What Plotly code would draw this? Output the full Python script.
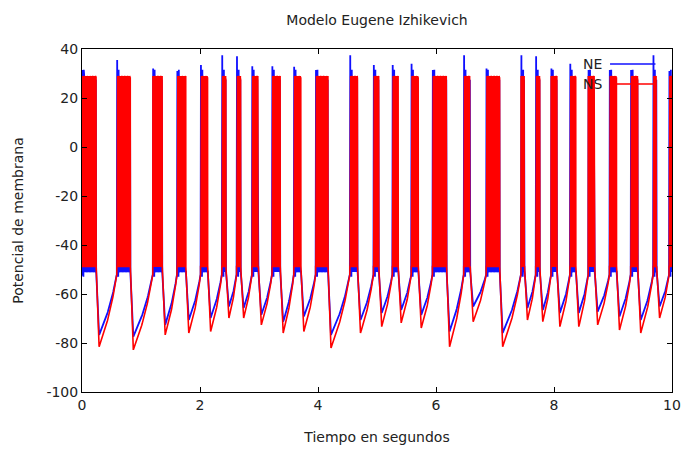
import numpy as np
import plotly.graph_objects as go

# ---- data (seconds / mV) ----
burst_start = [0.00, 0.59, 1.20, 1.61, 2.01, 2.37, 2.62, 2.88, 3.22, 3.59, 3.96, 4.54, 4.94, 5.26,
               5.58, 5.94, 6.47, 6.85, 7.44, 7.69, 7.95, 8.27, 8.58, 8.94, 9.30, 9.68, 9.95]
burst_end = [0.24, 0.82, 1.36, 1.76, 2.13, 2.44, 2.69, 2.99, 3.36, 3.71, 4.17, 4.67, 5.03, 5.36,
             5.70, 6.18, 6.58, 7.08, 7.50, 7.76, 8.05, 8.37, 8.69, 9.06, 9.42, 9.74, 10.0]
ne_min = [-76.7, -77.4, -72.6, -70.6, -69.8, -65.1, -65.7, -68.5, -71.3, -69.2, -76.7, -70.6, -67.7, -66.5,
          -68.5, -75.3, -65.1, -75.9, -65.7, -66.5, -67.7, -67.7, -67.2, -69.2, -70.6, -65.1, -65.0]
ns_min = [-81.5, -82.8, -76.7, -75.9, -75.3, -69.8, -69.8, -72.6, -75.9, -75.3, -82.0, -75.9, -73.3, -71.8,
          -73.9, -81.5, -71.3, -81.5, -70.6, -71.3, -73.3, -73.3, -72.6, -74.7, -75.9, -69.8, -70.0]
ne_peak = [31.4, 35.5, 32.0, 31.0, 33.5, 37.5, 37.0, 33.0, 33.0, 32.8, 31.4, 37.5, 33.5, 33.5,
           34.0, 31.4, 37.5, 32.0, 37.5, 37.0, 32.0, 34.0, 31.4, 31.4, 31.4, 37.5, 31.0]
ne_top_early, ne_top_late = [31.0, 30.0, 31.5], [27.5]
ne_bottom_early, ne_bottom_late = [-52.5, -51.0, -53.0], [-50.5, -51.0]
ns_top, ns_bottom = [29.0, 28.0, 28.5], [-48.5, -49.0]
threshold = -52.0
t_end = 10.0


def trace_from(starts, ends, mins, tops_early, tops_late, bots_early, bots_late, period,
               peaks=None, drop=0.05, npts=50, early=3):
    ts, vs = [], []
    n = len(starts)
    for i in range(n):
        s, e = starts[i], ends[i]
        k = max(3, int((e - s) / period))
        tt = np.linspace(s, e, 2 * k + 1)
        for j, t in enumerate(tt):
            ts.append(t)
            m = j // 2
            if j % 2 == 1:
                arr = tops_early if m < early else tops_late
                v = arr[m % len(arr)]
                if peaks is not None and j == 1:
                    v = peaks[i]
            else:
                arr = bots_early if m < early else bots_late
                v = arr[m % len(arr)]
            vs.append(v)
        nxt = starts[i + 1] if i + 1 < n else t_end
        if e >= t_end:
            continue
        t_low = min(e + drop, nxt)
        ts.append(t_low)
        vs.append(mins[i])
        rr = np.linspace(0, 1, npts)[1:]
        for r in rr:
            ts.append(t_low + (nxt - t_low) * r)
            shape = 0.7 * r + 0.3 * r ** 3
            vs.append(mins[i] + (threshold - mins[i]) * shape)
    return ts, vs


ne_t, ne_v = trace_from(burst_start, burst_end, ne_min, ne_top_early, ne_top_late,
                        ne_bottom_early, ne_bottom_late, 0.012, peaks=ne_peak)
ns_t, ns_v = trace_from(burst_start, burst_end, ns_min, ns_top, ns_top, ns_bottom, ns_bottom, 0.004)

fig = go.Figure()
fig.add_trace(go.Scatter(x=ne_t, y=ne_v, mode="lines", name="NE",
                         line=dict(color="#1010ff", width=1.8), showlegend=False))
fig.add_trace(go.Scatter(x=ns_t, y=ns_v, mode="lines", name="NS",
                         line=dict(color="#ff0000", width=1.6), showlegend=False))

txt = dict(family="DejaVu Sans", size=14, color="#222")
# manual gnuplot-style key
for label, color, yp in [("NE", "#1010ff", 0.956), ("NS", "#ff0000", 0.898)]:
    fig.add_annotation(x=0.885, y=yp, xref="paper", yref="paper", text=label, showarrow=False,
                       xanchor="right", yanchor="middle", font=txt)
    fig.add_shape(type="line", xref="paper", yref="paper", x0=0.895, x1=0.972, y0=yp, y1=yp,
                  line=dict(color=color, width=1.5))

xt = [0, 2, 4, 6, 8, 10]
yt = [-100, -80, -60, -40, -20, 0, 20, 40]
axis_common = dict(showline=True, linecolor="black", linewidth=1, mirror="allticks",
                   ticks="inside", ticklen=5, tickcolor="black", showgrid=False, zeroline=False,
                   tickfont=txt, automargin=False)
fig.update_layout(
    width=683, height=449,
    margin=dict(l=82, r=11, t=49, b=57),
    paper_bgcolor="white", plot_bgcolor="white",
    title=dict(text="Modelo Eugene Izhikevich", x=0.552, xanchor="center", y=0.955, yanchor="middle",
               font=dict(family="DejaVu Sans", size=14, color="#222")),
    xaxis=dict(range=[0, 10], tickvals=xt, ticktext=[str(v) for v in xt],
               title=dict(text="Tiempo en segundos", font=txt, standoff=20), **axis_common),
    yaxis=dict(range=[-100, 40], tickvals=yt, ticktext=[str(v) for v in yt],
               title=dict(text="Potencial de membrana", font=txt, standoff=19), **axis_common),
)
fig.write_html("out.html")
